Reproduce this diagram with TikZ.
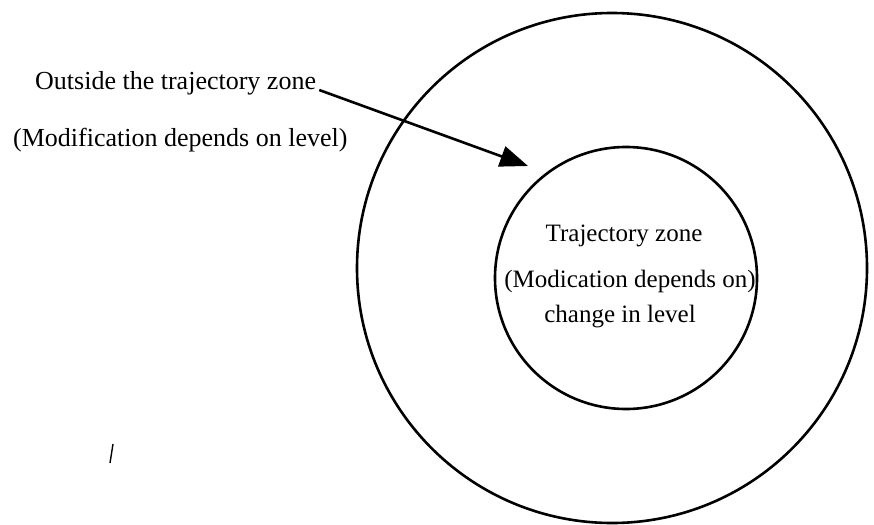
\documentclass[tikz,border=0pt]{standalone}
\usepackage{fontspec}
\setmainfont{Liberation Serif}
\usetikzlibrary{arrows.meta}
\tikzstyle{zone}  = [circle, draw=black, line width=2.6pt, inner sep=0pt]
\tikzstyle{label} = [inner sep=0pt, font=\fontsize{25}{30}\selectfont]
\tikzstyle{biglabel} = [inner sep=0pt, font=\fontsize{26}{31}\selectfont]
\tikzstyle{arrow} = [line width=2.6pt, -{Triangle[length=28pt,width=21pt]}]

\begin{document}
\begin{tikzpicture}[x=1pt, y=-1pt] % pixel-style units, y pointing down
            \useasboundingbox (0,0) rectangle (874,524);
            % two zones (outer and inner circle)
            \node (outerzone) [zone, minimum size=510pt] at (612,268) {};
            \node (innerzone) [zone, minimum size=262pt] at (626,278) {};

            % texts outside the trajectory zone
            \node (outlbl) [biglabel, anchor=base west] at (35,90) {Outside the trajectory zone};
            \node (outmod) [biglabel, anchor=base west] at (13,146) {(Modification depends on level)};

            % texts inside the trajectory zone
            \node (inlbl)  [label, anchor=base] at (624,241) {Trajectory zone};
            \node (inmod)  [label, anchor=base] at (630,287) {(Modication depends on)};
            \node (inchg)  [label, anchor=base] at (620,322) {change in level};

            % arrow from the label towards the inner zone
            \coordinate (tip) at (528,166);
            \draw [arrow] ([xshift=3pt]outlbl.base east) -- (tip);

            % small stroke lower left
            \coordinate (s1) at (113,444);
            \coordinate (s2) at (110,463);
            \draw [line width=1.4pt] (s1) -- (s2);
        \end{tikzpicture}
\end{document}
